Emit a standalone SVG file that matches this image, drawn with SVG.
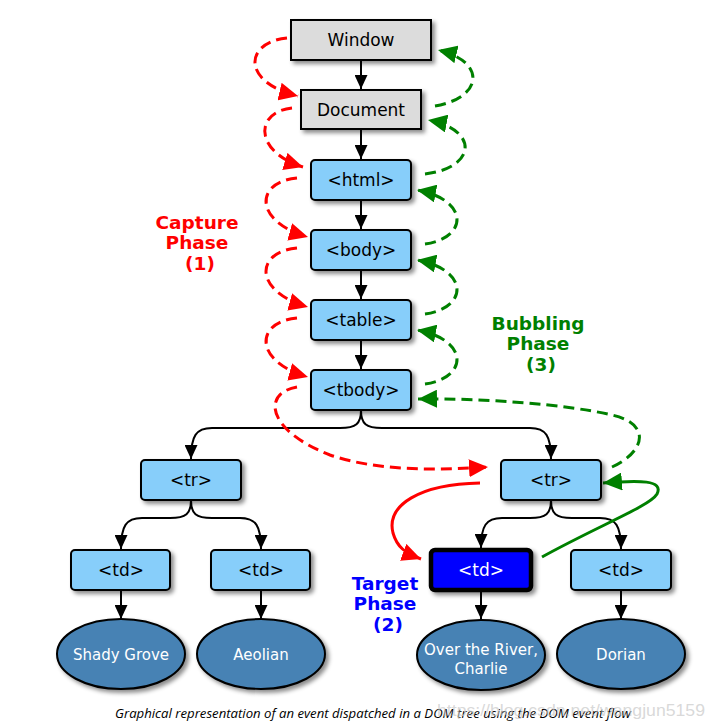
<svg xmlns="http://www.w3.org/2000/svg" width="713" height="726" viewBox="0 0 713 726">
<style>
.box{stroke:#000;stroke-width:2;filter:url(#sh)}
.gray{fill:#dcdcdc}
.blue{fill:#87cefa}
.tgt{fill:#0000ff;stroke-width:4.5}
.ell{fill:#4682b4;stroke:#000;stroke-width:2;filter:url(#sh)}
.t{font-family:"DejaVu Sans",Verdana,sans-serif;font-size:17px;fill:#000;text-anchor:middle}
.tw{font-family:"DejaVu Sans",Verdana,sans-serif;font-size:15px;fill:#fff;text-anchor:middle}
.lab{font-family:"DejaVu Sans",Verdana,sans-serif;font-size:18.5px;font-weight:bold;text-anchor:middle}
.tree{fill:none;stroke:#000;stroke-width:2;marker-end:url(#ab)}
.rd{fill:none;stroke:#f00;stroke-width:3;stroke-dasharray:11,6;marker-end:url(#ar)}
.gd{fill:none;stroke:#008000;stroke-width:3;stroke-dasharray:11,6;marker-end:url(#ag)}
.rs{fill:none;stroke:#f00;stroke-width:3;marker-end:url(#ar)}
.gs{fill:none;stroke:#008000;stroke-width:3;marker-end:url(#ag)}
</style>
<defs>
<filter id="sh" x="-20%" y="-20%" width="150%" height="160%">
<feDropShadow dx="3" dy="3" stdDeviation="2" flood-color="#000" flood-opacity="0.45"/>
</filter>
<marker id="ab" markerUnits="userSpaceOnUse" markerWidth="15" markerHeight="13" refX="14" refY="6.5" orient="auto">
<path d="M0,0 L14,6.5 L0,13 z" fill="#000"/>
</marker>
<marker id="ar" markerUnits="userSpaceOnUse" markerWidth="20" markerHeight="18" refX="19" refY="9" orient="auto">
<path d="M0,0 L19,9 L0,18 z" fill="#f00"/>
</marker>
<marker id="ag" markerUnits="userSpaceOnUse" markerWidth="20" markerHeight="18" refX="19" refY="9" orient="auto">
<path d="M0,0 L19,9 L0,18 z" fill="#008000"/>
</marker>
</defs>
<rect width="713" height="726" fill="#fff"/>

<g id="connectors">
<path class="tree" d="M361,60 V89"/>
<path class="tree" d="M361,129 V159"/>
<path class="tree" d="M361,200 V229"/>
<path class="tree" d="M361,270 V299"/>
<path class="tree" d="M361,340 V369"/>
<path class="tree" d="M361,410 C361,424 356,428 340,428 H212 C196,428 191,436 191,459"/>
<path class="tree" d="M361,410 C361,424 366,428 382,428 H530 C546,428 551,436 551,459"/>
<path class="tree" d="M191,500 C191,514 186,518 170,518 H142 C126,518 121,526 121,549"/>
<path class="tree" d="M191,500 C191,514 196,518 212,518 H240 C256,518 261,526 261,549"/>
<path class="tree" d="M551,500 C551,514 546,518 530,518 H502 C486,518 481,526 481,548"/>
<path class="tree" d="M551,500 C551,514 556,518 572,518 H600 C616,518 621,526 621,549"/>
<path class="tree" d="M121,590 V619"/>
<path class="tree" d="M261,590 V619"/>
<path class="tree" d="M481,592 V619"/>
<path class="tree" d="M621,590 V619"/>

<path class="rd" d="M287,38 C245,42 240,82 298,96"/>
<path class="rd" d="M292,108 C254,112 254,152 303,167"/>
<path class="rd" d="M297,178 C254,182 254,222 308,237"/>
<path class="rd" d="M297,248 C254,252 254,292 308,307"/>
<path class="rd" d="M297,318 C254,322 254,362 308,377"/>
<path class="rd" d="M297,387 C262,393 266,430 330,455 C380,472 440,470 488,467"/>

<path class="gd" d="M435,106 C482,98 488,62 438,50"/>
<path class="gd" d="M425,174 C476,168 480,130 428,120"/>
<path class="gd" d="M425,244 C468,238 470,200 417,190"/>
<path class="gd" d="M425,314 C468,308 470,270 417,260"/>
<path class="gd" d="M425,384 C468,378 470,340 417,330"/>
<path class="gd" d="M612,467 C645,452 652,424 612,415 C565,404 480,398 418,399"/>

<path class="rs" d="M480,483 C420,484 386,505 393,533 C397,547 405,553 421,559"/>
<path class="gs" d="M542,557 C600,525 650,506 657,494 C664,480 640,480 603,483"/>
</g>

<g id="window"><rect class="box gray" x="291" y="20" width="140" height="40"/><text class="t" x="361" y="46">Window</text></g>
<g id="document"><rect class="box gray" x="301" y="90" width="120" height="39"/><text class="t" x="361" y="116">Document</text></g>
<g id="html"><rect class="box blue" x="311" y="160" width="100" height="40" rx="4"/><text class="t" x="361" y="186">&lt;html&gt;</text></g>
<g id="body"><rect class="box blue" x="311" y="230" width="100" height="40" rx="4"/><text class="t" x="361" y="256">&lt;body&gt;</text></g>
<g id="table"><rect class="box blue" x="311" y="300" width="100" height="40" rx="4"/><text class="t" x="361" y="326">&lt;table&gt;</text></g>
<g id="tbody"><rect class="box blue" x="311" y="370" width="100" height="40" rx="4"/><text class="t" x="361" y="396">&lt;tbody&gt;</text></g>
<g id="tr-left"><rect class="box blue" x="141" y="460" width="100" height="40" rx="4"/><text class="t" x="191" y="486">&lt;tr&gt;</text></g>
<g id="tr-right"><rect class="box blue" x="501" y="460" width="100" height="40" rx="4"/><text class="t" x="551" y="486">&lt;tr&gt;</text></g>
<g id="td-1"><rect class="box blue" x="71" y="550" width="99" height="40" rx="4"/><text class="t" x="121" y="576">&lt;td&gt;</text></g>
<g id="td-2"><rect class="box blue" x="211" y="550" width="99" height="40" rx="4"/><text class="t" x="261" y="576">&lt;td&gt;</text></g>
<g id="td-target"><rect class="box tgt" x="431" y="550" width="100" height="40" rx="4"/><text class="t" x="481" y="576" style="fill:#fff">&lt;td&gt;</text></g>
<g id="td-4"><rect class="box blue" x="571" y="550" width="100" height="40" rx="4"/><text class="t" x="621" y="576">&lt;td&gt;</text></g>

<g id="shady-grove"><ellipse class="ell" cx="121" cy="654" rx="64" ry="35"/><text class="tw" x="121" y="660">Shady Grove</text></g>
<g id="aeolian"><ellipse class="ell" cx="261" cy="654" rx="64" ry="35"/><text class="tw" x="261" y="660">Aeolian</text></g>
<g id="over-the-river"><ellipse class="ell" cx="481" cy="655" rx="64" ry="35"/><text class="tw" x="481" y="655">Over the River,</text><text class="tw" x="481" y="674">Charlie</text></g>
<g id="dorian"><ellipse class="ell" cx="621" cy="654" rx="64" ry="35"/><text class="tw" x="621" y="660">Dorian</text></g>

<g id="capture-label" class="lab" fill="#f00"><text x="197" y="229">Capture</text><text x="197" y="249">Phase</text><text x="200" y="270">(1)</text></g>
<g id="bubbling-label" class="lab" fill="#008000"><text x="538" y="330">Bubbling</text><text x="538" y="350">Phase</text><text x="541" y="371">(3)</text></g>
<g id="target-label" class="lab" fill="#0000ff"><text x="385" y="590">Target</text><text x="385" y="610">Phase</text><text x="388" y="631">(2)</text></g>

<text x="115" y="718" font-family="'Open Sans','Liberation Sans',sans-serif" font-size="12" font-style="italic" textLength="516" lengthAdjust="spacingAndGlyphs" fill="#000">Graphical representation of an event dispatched in a DOM tree using the DOM event flow</text>
<text x="437" y="716" font-family="'Liberation Sans',Arial,sans-serif" font-size="17" fill="#c8c8c8" fill-opacity="0.7" textLength="268" lengthAdjust="spacingAndGlyphs">https://blog.csdn.net/wangjun5159</text>
</svg>
